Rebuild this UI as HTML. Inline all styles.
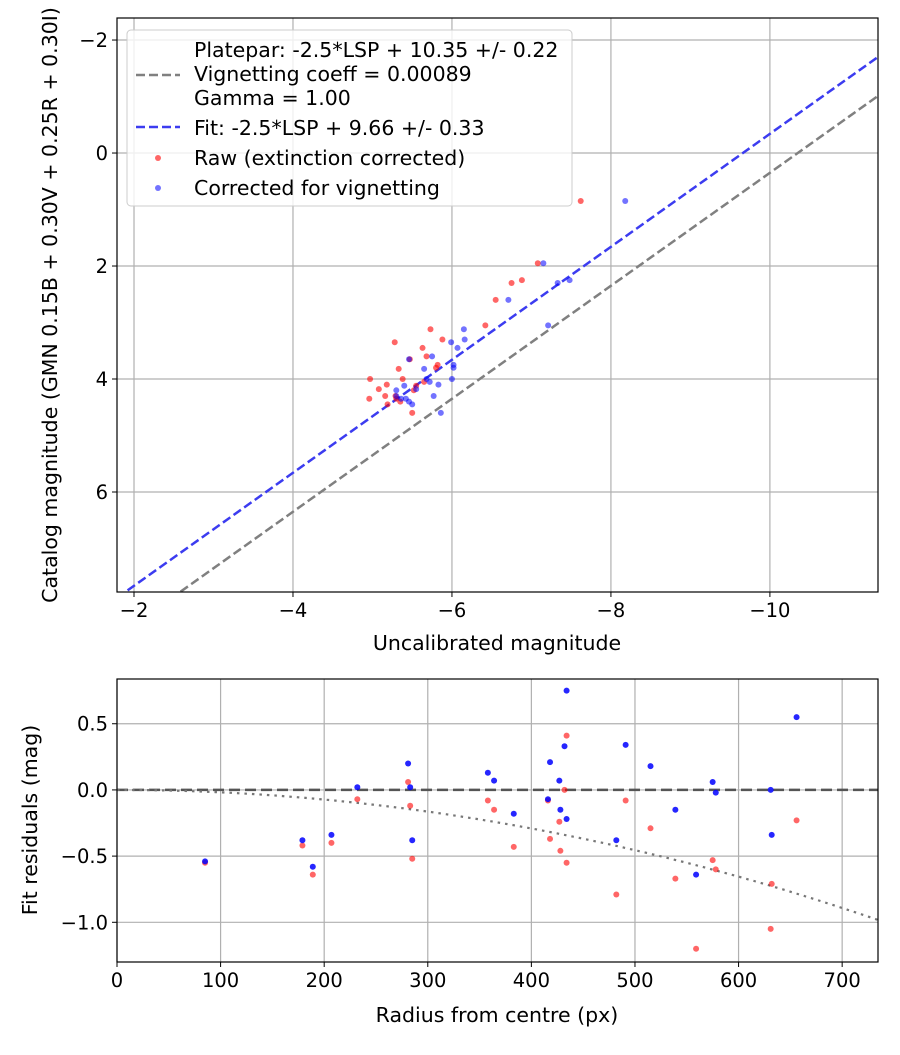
<!DOCTYPE html>
<html><head><meta charset="utf-8"><style>
body{margin:0;background:#fff;font-family:"Liberation Sans","DejaVu Sans",sans-serif}
svg text{font-family:"DejaVu Sans","Liberation Sans",sans-serif;fill:#000}
</style></head><body>
<svg id="c" width="900" height="1050" xmlns="http://www.w3.org/2000/svg"></svg>
<script>
const catMag=[0.85,1.95,2.25,2.30,2.60,3.05,3.12,3.30,3.35,3.45,3.60,3.65,3.75,3.82,3.80,4.00,4.00,4.05,4.10,4.12,4.18,4.20,4.30,4.35,4.30,4.35,4.40,4.45,4.60];
const rawMag=[-7.62,-7.08,-6.88,-6.75,-6.55,-6.42,-5.73,-5.88,-5.28,-5.63,-5.68,-5.47,-5.82,-5.33,-5.80,-4.97,-5.38,-5.65,-5.18,-5.55,-5.08,-5.52,-5.16,-4.96,-5.29,-5.30,-5.35,-5.19,-5.50];
const corrMag=[-8.18,-7.15,-7.48,-7.33,-6.71,-7.21,-6.15,-6.16,-5.99,-6.07,-5.75,-5.46,-6.02,-5.65,-6.02,-6.00,-5.68,-5.72,-5.83,-5.40,-5.55,-5.30,-5.77,-5.42,-5.30,-5.36,-5.46,-5.50,-5.86];
const radius=[85,179,189,207,232,281,283,285,358,364,383,416,418,427,428,432,434,434,482,491,515,539,559,575,578,631,632,656];
const resRaw=[-0.55,-0.42,-0.64,-0.40,-0.07,0.06,-0.12,-0.52,-0.08,-0.15,-0.43,-0.08,-0.37,-0.24,-0.46,0.00,0.41,-0.55,-0.79,-0.08,-0.29,-0.67,-1.20,-0.53,-0.60,-1.05,-0.71,-0.23];
const resCorr=[-0.54,-0.38,-0.58,-0.34,0.02,0.20,0.02,-0.38,0.13,0.07,-0.18,-0.07,0.21,0.07,-0.15,0.33,0.75,-0.22,-0.38,0.34,0.18,-0.15,-0.64,0.06,-0.02,0.00,-0.34,0.55];
const xTicksTop=[-2,-4,-6,-8,-10], yTicksTop=[-2,0,2,4,6];
const xTicksBot=[0,100,200,300,400,500,600,700], yTicksBot=[0.5,0,-0.5,-1.0];
const yTickBotLabels=["0.5","0.0","\u22120.5","\u22121.0"];
const platepar=10.35, fitOff=9.66, vigC=-1.82e-6;

const S=document.getElementById('c'),NS='http://www.w3.org/2000/svg';
function el(t,a,p){const e=document.createElementNS(NS,t);for(const k in a)e.setAttribute(k,a[k]);(p||S).appendChild(e);return e;}
const T={l:117,r:878,t:18,b:592,x0:-1.786,x1:-11.36,y0:-2.39,y1:7.77};
const tx=v=>T.l+(v-T.x0)/(T.x1-T.x0)*(T.r-T.l), ty=v=>T.t+(v-T.y0)/(T.y1-T.y0)*(T.b-T.t);
const B={l:117,r:878,t:679,b:962,x0:0,x1:734.6,y0:0.838,y1:-1.30};
const bx=v=>B.l+(v-B.x0)/(B.x1-B.x0)*(B.r-B.l), by=v=>B.t+(v-B.y0)/(B.y1-B.y0)*(B.b-B.t);
const m=s=>String(s).replace('-','\u2212');
const FT=19.5, FL=20.5;
function grid(A,xs,ys,fx,fy,xl,yl,nm){
  const g=el('g',{});
  xs.forEach((v,i)=>{const x=fx(v);el('line',{x1:x,x2:x,y1:A.t,y2:A.b,stroke:'#b0b0b0','stroke-width':1.2},g);
    el('line',{x1:x,x2:x,y1:A.b,y2:A.b+5,stroke:'#000'},g);
    const t=el('text',{x:x,y:A.b+25,'text-anchor':'middle','font-size':FT},g);t.textContent=xl[i];
    });
  ys.forEach((v,i)=>{const y=fy(v);el('line',{x1:A.l,x2:A.r,y1:y,y2:y,stroke:'#b0b0b0','stroke-width':1.2},g);
    el('line',{x1:A.l-5,x2:A.l,y1:y,y2:y,stroke:'#000'},g);
    const t=el('text',{x:A.l-9,y:y+7,'text-anchor':'end','font-size':FT},g);t.textContent=yl[i];
    });
}
grid(T,xTicksTop,yTicksTop,tx,ty,xTicksTop.map(m),yTicksTop.map(m),'top');
grid(B,xTicksBot,yTicksBot,bx,by,xTicksBot.map(String),yTickBotLabels,'bottom');
let cl=el('clipPath',{id:'ct'});el('rect',{x:T.l,y:T.t,width:T.r-T.l,height:T.b-T.t},cl);
let cb=el('clipPath',{id:'cb'});el('rect',{x:B.l,y:B.t,width:B.r-B.l,height:B.b-B.t},cb);
const gt=el('g',{'clip-path':'url(#ct)'});
let l1=el('line',{x1:tx(T.x0),y1:ty(T.x0+platepar),x2:tx(T.x1),y2:ty(T.x1+platepar),stroke:'#808080','stroke-width':2.5,'stroke-dasharray':'9,4'},gt);

let l2=el('line',{x1:tx(T.x0),y1:ty(T.x0+fitOff),x2:tx(T.x1),y2:ty(T.x1+fitOff),stroke:'#3c3cf0','stroke-width':2.5,'stroke-dasharray':'9,4'},gt);

catMag.forEach((y,i)=>{const c=el('circle',{cx:tx(rawMag[i]),cy:ty(y),r:3,fill:'rgba(255,0,0,0.6)'},gt);
  });
catMag.forEach((y,i)=>{const c=el('circle',{cx:tx(corrMag[i]),cy:ty(y),r:3,fill:'rgba(0,0,255,0.55)'},gt);
  });
const gb=el('g',{'clip-path':'url(#cb)'});
let z=el('line',{x1:B.l,x2:B.r,y1:by(0),y2:by(0),stroke:'#555','stroke-width':2.5,'stroke-dasharray':'11,5'},gb);

let d='';for(let r=0;r<=740;r+=5){d+=(r?'L':'M')+bx(r).toFixed(1)+','+by(vigC*r*r).toFixed(1);}
let vp=el('path',{d:d,fill:'none',stroke:'#777','stroke-width':2.2,'stroke-dasharray':'2.5,5'},gb);

radius.forEach((r,i)=>{const c=el('circle',{cx:bx(r),cy:by(resRaw[i]),r:3,fill:'rgba(255,0,0,0.6)'},gb);
  });
radius.forEach((r,i)=>{const c=el('circle',{cx:bx(r),cy:by(resCorr[i]),r:3,fill:'rgba(0,0,255,0.85)'},gb);
  });
[T,B].forEach(A=>{el('rect',{x:A.l,y:A.t,width:A.r-A.l,height:A.b-A.t,fill:'none',stroke:'#000','stroke-width':1.2});});
function txt(s,a,nm){const t=el('text',a);t.textContent=s;return t;}
txt('Uncalibrated magnitude',{x:497,y:650,'text-anchor':'middle','font-size':FL},'top-x-axis-title');
txt('Catalog magnitude (GMN 0.15B + 0.30V + 0.25R + 0.30I)',{x:57,y:305,'text-anchor':'middle','font-size':FL,transform:'rotate(-90 57 305)'},'top-y-axis-title');
txt('Radius from centre (px)',{x:497,y:1022,'text-anchor':'middle','font-size':FL},'bottom-x-axis-title');
txt('Fit residuals (mag)',{x:37,y:820,'text-anchor':'middle','font-size':FL,transform:'rotate(-90 37 820)'},'bottom-y-axis-title');
const lg=el('g',{});
el('rect',{x:127,y:30,width:445,height:176,rx:4,fill:'rgba(255,255,255,0.8)',stroke:'#ccc'},lg);
el('line',{x1:136,x2:180,y1:75,y2:75,stroke:'#808080','stroke-width':2.5,'stroke-dasharray':'9,4'},lg);
el('line',{x1:136,x2:180,y1:127,y2:127,stroke:'#3c3cf0','stroke-width':2.5,'stroke-dasharray':'9,4'},lg);
el('circle',{cx:158,cy:158,r:3,fill:'rgba(255,0,0,0.6)'},lg);
el('circle',{cx:158,cy:188,r:3,fill:'rgba(0,0,255,0.55)'},lg);
[['Platepar: -2.5*LSP + 10.35 +/- 0.22',57],['Vignetting coeff = 0.00089',81],['Gamma = 1.00',105],['Fit: -2.5*LSP + 9.66 +/- 0.33',135],['Raw (extinction corrected)',165],['Corrected for vignetting',195]].forEach(a=>{
  const t=el('text',{x:194,y:a[1],'font-size':FL},lg);t.textContent=a[0];});
</script>
</body></html>
